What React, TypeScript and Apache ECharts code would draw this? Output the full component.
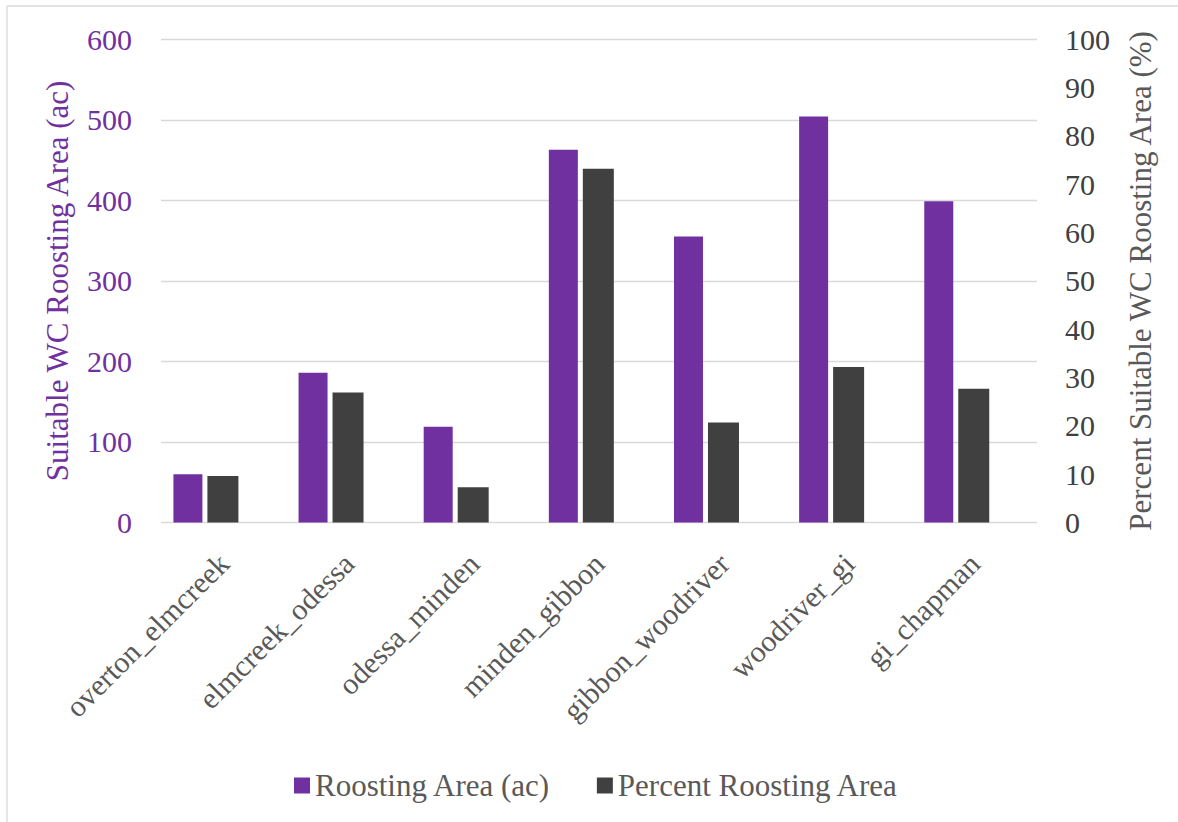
import React, { useEffect, useRef } from "react";
import * as echarts from "echarts";

const categories = [
  "overton_elmcreek",
  "elmcreek_odessa",
  "odessa_minden",
  "minden_gibbon",
  "gibbon_woodriver",
  "woodriver_gi",
  "gi_chapman",
];
const roostingArea = [60, 186, 119, 463, 355, 504, 399];
const percentArea = [9.6, 26.9, 7.3, 73.2, 20.7, 32.2, 27.7];
const leftTicks = { min: 0, max: 600, interval: 100 };
const rightTicks = { min: 0, max: 100, interval: 10 };

const FONT = "serif";
const PURPLE = "#7030A0";
const DARK = "#404040";
const GREY_TEXT = "#595959";
const GRID = "#d9d9d9";

export default function App() {
  const ref = useRef<HTMLDivElement>(null);
  useEffect(() => {
    if (!ref.current) return;
    document.body.style.margin = "0";
    const chart = echarts.init(ref.current, null, { renderer: "svg" });
    chart.setOption({
      animation: false,
      textStyle: { fontFamily: FONT },
      grid: { left: 161, right: 141, top: 39.3, bottom: 299.5, containLabel: false },
      legend: {
        data: ["Roosting Area (ac)", "Percent Roosting Area"],
        left: 289,
        top: 765,
        icon: "rect",
        itemWidth: 16,
        itemHeight: 16,
        itemGap: 46,
        textStyle: { fontFamily: FONT, fontSize: 31, color: GREY_TEXT },
      },
      graphic: [
        { type: "line", shape: { x1: 7, y1: 6, x2: 1178, y2: 6 }, style: { stroke: GRID, lineWidth: 1.3 } },
        { type: "line", shape: { x1: 7, y1: 6, x2: 7, y2: 822 }, style: { stroke: GRID, lineWidth: 1.3 } },
      ],
      xAxis: {
        type: "category",
        data: categories,
        axisLine: { show: false },
        axisTick: { show: false },
        axisLabel: {
          rotate: 45,
          interval: 0,
          fontFamily: FONT,
          fontSize: 30,
          color: GREY_TEXT,
          margin: 36,
        },
      },
      yAxis: [
        {
          type: "value",
          min: leftTicks.min,
          max: leftTicks.max,
          interval: leftTicks.interval,
          name: "Suitable WC Roosting Area (ac)",
          nameLocation: "middle",
          nameGap: 88,
          nameTextStyle: { fontFamily: FONT, fontSize: 31, color: PURPLE },
          axisLine: { show: false },
          axisTick: { show: false },
          axisLabel: { fontFamily: FONT, fontSize: 30, color: PURPLE, margin: 29 },
          splitLine: { show: true, lineStyle: { color: GRID, width: 1.4 } },
        },
        {
          type: "value",
          position: "right",
          min: rightTicks.min,
          max: rightTicks.max,
          interval: rightTicks.interval,
          name: "Percent Suitable WC Roosting Area (%)",
          nameLocation: "middle",
          nameGap: 88,
          nameTextStyle: { fontFamily: FONT, fontSize: 31, color: GREY_TEXT },
          axisLine: { show: false },
          axisTick: { show: false },
          axisLabel: { fontFamily: FONT, fontSize: 30, color: DARK, margin: 28 },
          splitLine: { show: false },
        },
      ],
      series: [
        {
          name: "Roosting Area (ac)",
          type: "bar",
          yAxisIndex: 0,
          data: roostingArea,
          barWidth: 29,
          barGap: "17.2%",
          itemStyle: { color: PURPLE },
        },
        {
          name: "Percent Roosting Area",
          type: "bar",
          yAxisIndex: 1,
          data: percentArea,
          barWidth: 31,
          barGap: "17.2%",
          itemStyle: { color: DARK },
        },
        {
          name: "spacer",
          type: "bar",
          yAxisIndex: 0,
          data: categories.map(() => null),
          barWidth: 30,
          barGap: "17.2%",
          silent: true,
          itemStyle: { color: "transparent" },
        },
      ],
    });
    return () => chart.dispose();
  }, []);
  return <div ref={ref} style={{ width: 1178, height: 822 }} />;
}
